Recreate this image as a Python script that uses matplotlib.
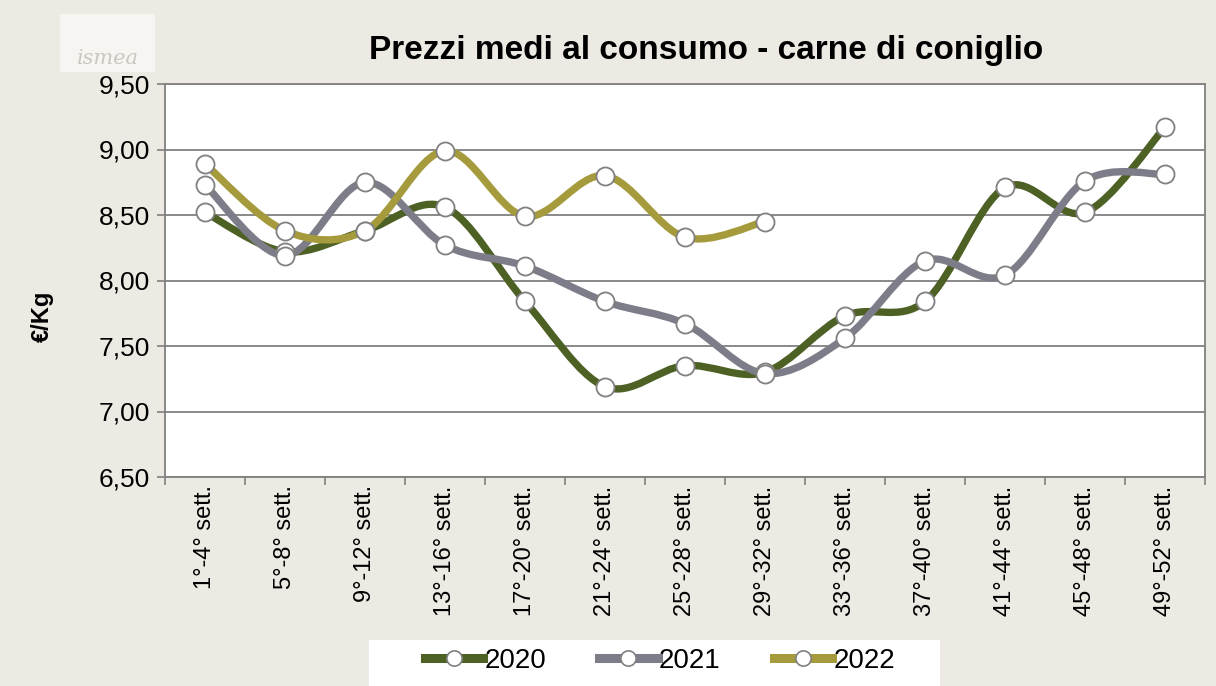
import numpy as np
import matplotlib.pyplot as plt
from matplotlib.path import Path
from matplotlib.patches import PathPatch, Rectangle
from matplotlib.lines import Line2D

plt.rcParams['font.family'] = ['Liberation Sans', 'DejaVu Sans']

settimane = ["1°-4° sett.", "5°-8° sett.", "9°-12° sett.", "13°-16° sett.",
             "17°-20° sett.", "21°-24° sett.", "25°-28° sett.", "29°-32° sett.",
             "33°-36° sett.", "37°-40° sett.", "41°-44° sett.", "45°-48° sett.",
             "49°-52° sett."]
prezzi_2020 = [8.52, 8.22, 8.38, 8.56, 7.84, 7.19, 7.35, 7.30, 7.73, 7.84, 8.71, 8.52, 9.17]
prezzi_2021 = [8.73, 8.19, 8.75, 8.27, 8.11, 7.84, 7.67, 7.29, 7.56, 8.15, 8.04, 8.76, 8.81]
prezzi_2022 = [8.89, 8.38, 8.38, 8.99, 8.49, 8.80, 8.33, 8.45]
anni = ["2020", "2021", "2022"]
colori = ["#4E6125", "#7C7D88", "#A59A3C"]
y_ticks = [6.5, 7.0, 7.5, 8.0, 8.5, 9.0, 9.5]


def curva_liscia(x, y):
    # curva tipo "linea smussata" di Excel (Bezier Catmull-Rom)
    pts = np.column_stack([x, y]).astype(float)
    verts = [pts[0]]
    codes = [Path.MOVETO]
    n = len(pts)
    for i in range(n - 1):
        p0 = pts[max(i - 1, 0)]
        p1 = pts[i]
        p2 = pts[i + 1]
        p3 = pts[min(i + 2, n - 1)]
        verts += [p1 + (p2 - p0) / 6, p2 - (p3 - p1) / 6, p2]
        codes += [Path.CURVE4] * 3
    return Path(verts, codes)


fig = plt.figure(figsize=(12.16, 6.86), dpi=100)
fig.patch.set_facecolor("#ECEAE3")
ax = fig.add_axes([165 / 1216, 1 - 477 / 686, 1040 / 1216, 393 / 686])
ax.set_facecolor("white")

serie = [prezzi_2020, prezzi_2021, prezzi_2022]
for valori, col in zip(serie, colori):
    x = np.arange(len(valori))
    ax.add_patch(PathPatch(curva_liscia(x, valori), facecolor="none", edgecolor=col,
                           lw=5.3, capstyle="round", joinstyle="round", zorder=3))
for valori, col in zip(serie, colori):
    x = np.arange(len(valori))
    ax.plot(x, valori, ls="none", marker="o", ms=13, mfc="white", mec="#808080",
            mew=1.3, zorder=4)

ax.set_xlim(-0.5, len(settimane) - 0.5)
ax.set_ylim(6.5, 9.5)
ax.set_yticks(y_ticks)
ax.set_yticklabels([f"{v:.2f}".replace(".", ",") for v in y_ticks], fontsize=19)
ax.yaxis.grid(True, color="#808080", lw=1.3)
ax.set_axisbelow(True)

ax.set_xticks(np.arange(len(settimane)))
ax.set_xticklabels(settimane, rotation=90, fontsize=17)
ax.set_xticks(np.arange(len(settimane) + 1) - 0.5, minor=True)
ax.tick_params(axis="x", which="major", length=0, pad=6)
ax.tick_params(axis="x", which="minor", length=6, color="#808080", width=1.2)
ax.tick_params(axis="y", length=6, color="#808080", width=1.2, pad=5)
for sp in ax.spines.values():
    sp.set_color("#808080")
    sp.set_linewidth(1.3)

fig.text(42 / 1216, 1 - 316 / 686, "€/Kg", fontsize=17, fontweight="bold",
         rotation=90, ha="center", va="center")
fig.text(706 / 1216, 1 - 50 / 686, "Prezzi medi al consumo - carne di coniglio",
         fontsize=24, fontweight="bold", ha="center", va="center")

# logo ISMEA sbiadito
fig.patches.append(Rectangle((60 / 1216, 1 - 72 / 686), 95 / 1216, 58 / 686,
                             transform=fig.transFigure, facecolor="#F6F5F2",
                             edgecolor="none", zorder=0))
fig.text(108 / 1216, 1 - 58 / 686, "ismea", fontsize=15, color="#C9C7C2",
         ha="center", va="center", family="DejaVu Serif", style="italic")

# riquadro legenda
fig.patches.append(Rectangle((369 / 1216, 0), 571 / 1216, 46 / 686,
                             transform=fig.transFigure, facecolor="white",
                             edgecolor="none", zorder=0))
handles = [Line2D([], [], color=c, lw=6.5, marker="o", ms=11, mfc="white",
                  mec="#808080", mew=1.2) for c in colori]
leg = fig.legend(handles, anni, loc="center left", ncol=3,
                 bbox_to_anchor=(425 / 1216, 1 - 661 / 686), fontsize=20,
                 frameon=False, handlelength=2.1, handletextpad=0.05,
                 columnspacing=1.9, borderpad=0, borderaxespad=0)

fig.savefig("out.png", dpi=100, facecolor=fig.get_facecolor())
